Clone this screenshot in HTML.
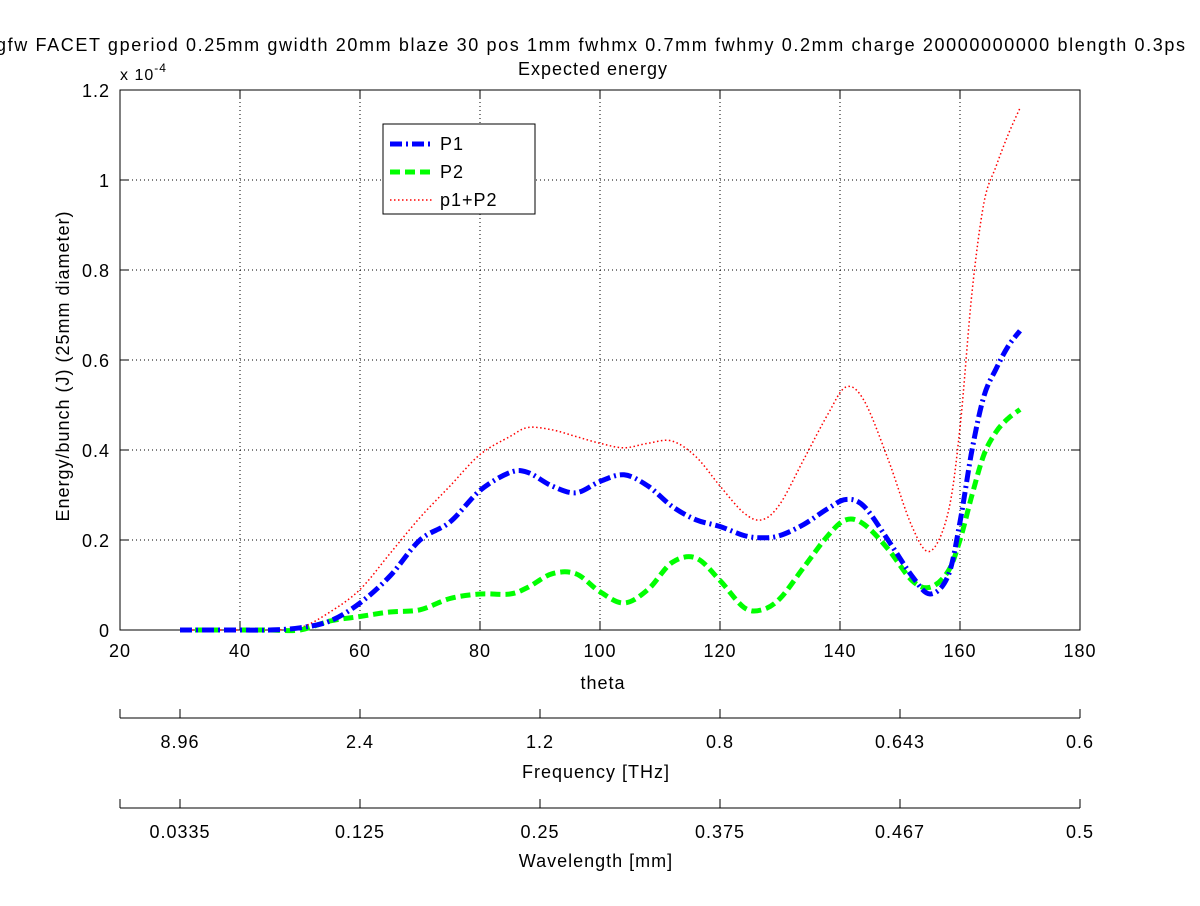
<!DOCTYPE html>
<html><head><meta charset="utf-8"><style>
body{margin:0;background:#fff;}
svg text{font-family:"Liberation Sans",sans-serif;fill:#000;letter-spacing:1px;}
</style></head><body>
<svg width="1200" height="901" viewBox="0 0 1200 901" xmlns="http://www.w3.org/2000/svg">
<rect width="1200" height="901" fill="#fff"/>
<text x="-4" y="51" font-size="18" textLength="1190" lengthAdjust="spacing">gfw FACET gperiod 0.25mm gwidth 20mm blaze 30 pos 1mm fwhmx 0.7mm fwhmy 0.2mm charge 20000000000 blength 0.3ps</text>
<text x="593" y="75" font-size="18" text-anchor="middle">Expected energy</text>
<g id="grid"></g>
<rect x="120" y="90" width="960" height="540" fill="none" stroke="#000"/>
<g id="axes"></g>
<g id="series"></g>
<text x="120" y="80" font-size="16">x 10<tspan dy="-8" font-size="12">-4</tspan></text>
<text transform="translate(69,366) rotate(-90)" font-size="18" text-anchor="middle">Energy/bunch (J) (25mm diameter)</text>
<text x="603" y="689" font-size="18" text-anchor="middle">theta</text>
<text x="596" y="778" font-size="18" text-anchor="middle">Frequency [THz]</text>
<text x="596" y="867" font-size="18" text-anchor="middle">Wavelength [mm]</text>
<g>
<rect x="383" y="124" width="152" height="90" fill="#fff" stroke="#000"/>
<line x1="390" y1="144" x2="434" y2="144" stroke="#00f" stroke-width="5" stroke-dasharray="12,4,2,4"/>
<text x="440" y="150" font-size="18">P1</text>
<line x1="390" y1="172" x2="434" y2="172" stroke="#0f0" stroke-width="5" stroke-dasharray="10,5"/>
<text x="440" y="178" font-size="18">P2</text>
<line x1="390" y1="200" x2="434" y2="200" stroke="#f00" stroke-width="1.5" stroke-dasharray="1.5,2.5"/>
<text x="440" y="206" font-size="18">p1+P2</text>
</g>
</svg>
<script>
const theta=[30,35,40,45,50,55,60,65,70,75,80,85,88,92,96,100,104,108,112,116,120,124,127,130,134,138,141,144,148,152,155,158,160,162,164,166,168,170];
const p1=[0,0,0,0,0.005,0.02,0.06,0.12,0.2,0.24,0.31,0.35,0.35,0.32,0.305,0.33,0.345,0.32,0.275,0.245,0.23,0.21,0.205,0.21,0.235,0.27,0.29,0.275,0.2,0.12,0.08,0.12,0.24,0.40,0.52,0.58,0.63,0.665];
const p2=[0,0,0,0,0,0.02,0.03,0.04,0.045,0.07,0.08,0.08,0.095,0.125,0.125,0.085,0.06,0.09,0.15,0.16,0.11,0.05,0.045,0.07,0.14,0.21,0.245,0.235,0.18,0.11,0.095,0.13,0.2,0.3,0.39,0.44,0.47,0.49];
const psum=[0,0,0,0,0.005,0.04,0.09,0.17,0.25,0.32,0.39,0.43,0.45,0.445,0.43,0.415,0.405,0.415,0.42,0.385,0.32,0.26,0.245,0.28,0.38,0.48,0.54,0.51,0.38,0.23,0.175,0.26,0.45,0.75,0.95,1.03,1.1,1.16];
const xTicks=[20,40,60,80,100,120,140,160,180];
const yTicks=[0,0.2,0.4,0.6,0.8,1,1.2];
const yTickLabels=["0","0.2","0.4","0.6","0.8","1","1.2"];
const secTheta=[30,60,90,120,150,180];
const freqLabels=["8.96","2.4","1.2","0.8","0.643","0.6"];
const waveLabels=["0.0335","0.125","0.25","0.375","0.467","0.5"];
const NS="http://www.w3.org/2000/svg";
const X=v=>120+(v-20)*6, Y=v=>630-v*450;
function mk(tag,attrs,parent,txt){const e=document.createElementNS(NS,tag);for(const k in attrs)e.setAttribute(k,attrs[k]);if(txt!=null)e.textContent=txt;parent.appendChild(e);return e;}
const grid=document.getElementById('grid'),axes=document.getElementById('axes'),ser=document.getElementById('series');
xTicks.forEach(t=>{
 if(t>20&&t<180){const g=mk('line',{x1:X(t),x2:X(t),y1:90,y2:630,stroke:'#000','stroke-dasharray':'1,3'},grid);
 
 }
 mk('line',{x1:X(t),x2:X(t),y1:630,y2:621,stroke:'#000'},axes);
 mk('line',{x1:X(t),x2:X(t),y1:90,y2:99,stroke:'#000'},axes);
 const l=mk('text',{x:X(t),y:657,'font-size':18,'text-anchor':'middle'},axes,String(t));
 
 
});
yTicks.forEach((t,i)=>{
 if(t>0&&t<1.2){const g=mk('line',{x1:120,x2:1080,y1:Y(t),y2:Y(t),stroke:'#000','stroke-dasharray':'1,3'},grid);
 
 }
 mk('line',{x1:120,x2:129,y1:Y(t),y2:Y(t),stroke:'#000'},axes);
 mk('line',{x1:1080,x2:1071,y1:Y(t),y2:Y(t),stroke:'#000'},axes);
 const l=mk('text',{x:110,y:Y(t)+7,'font-size':18,'text-anchor':'end'},axes,yTickLabels[i]);
 
 
});
[[718,freqLabels,'frequency'],[808,waveLabels,'wavelength']].forEach(([yy,labs,nm])=>{
 const a=mk('line',{x1:120,x2:1080,y1:yy,y2:yy,stroke:'#000'},axes);
 
 
 mk('line',{x1:120,x2:120,y1:yy,y2:yy-9,stroke:'#000'},axes);
 secTheta.forEach((t,i)=>{
  mk('line',{x1:X(t),x2:X(t),y1:yy,y2:yy-9,stroke:'#000'},axes);
  const l=mk('text',{x:X(t),y:yy+30,'font-size':18,'text-anchor':'middle'},axes,labs[i]);
  
  
 });
});
function line(vals,color,w,dash,name){
 const P=theta.map((t,i)=>[X(t),Y(vals[i])]);
 let d='M'+P[0][0].toFixed(1)+','+P[0][1].toFixed(1);
 for(let i=0;i<P.length-1;i++){
  const p0=P[Math.max(0,i-1)],p1=P[i],p2=P[i+1],p3=P[Math.min(P.length-1,i+2)];
  const c1=[p1[0]+(p2[0]-p0[0])/6,p1[1]+(p2[1]-p0[1])/6];
  const c2=[p2[0]-(p3[0]-p1[0])/6,p2[1]-(p3[1]-p1[1])/6];
  d+=' C'+c1[0].toFixed(1)+','+c1[1].toFixed(1)+' '+c2[0].toFixed(1)+','+c2[1].toFixed(1)+' '+p2[0].toFixed(1)+','+p2[1].toFixed(1);
 }
 const p=mk('path',{d:d,fill:'none',stroke:color,'stroke-width':w,'stroke-dasharray':dash,'stroke-linejoin':'round'},ser);
 
 
}
line(psum,'#f00',1.5,'1.5,2.5','series-p1-plus-p2');
line(p2,'#0f0',5,'10,5','series-p2');
line(p1,'#00f',5,'12,4,2,4','series-p1');
</script>
</body></html>
